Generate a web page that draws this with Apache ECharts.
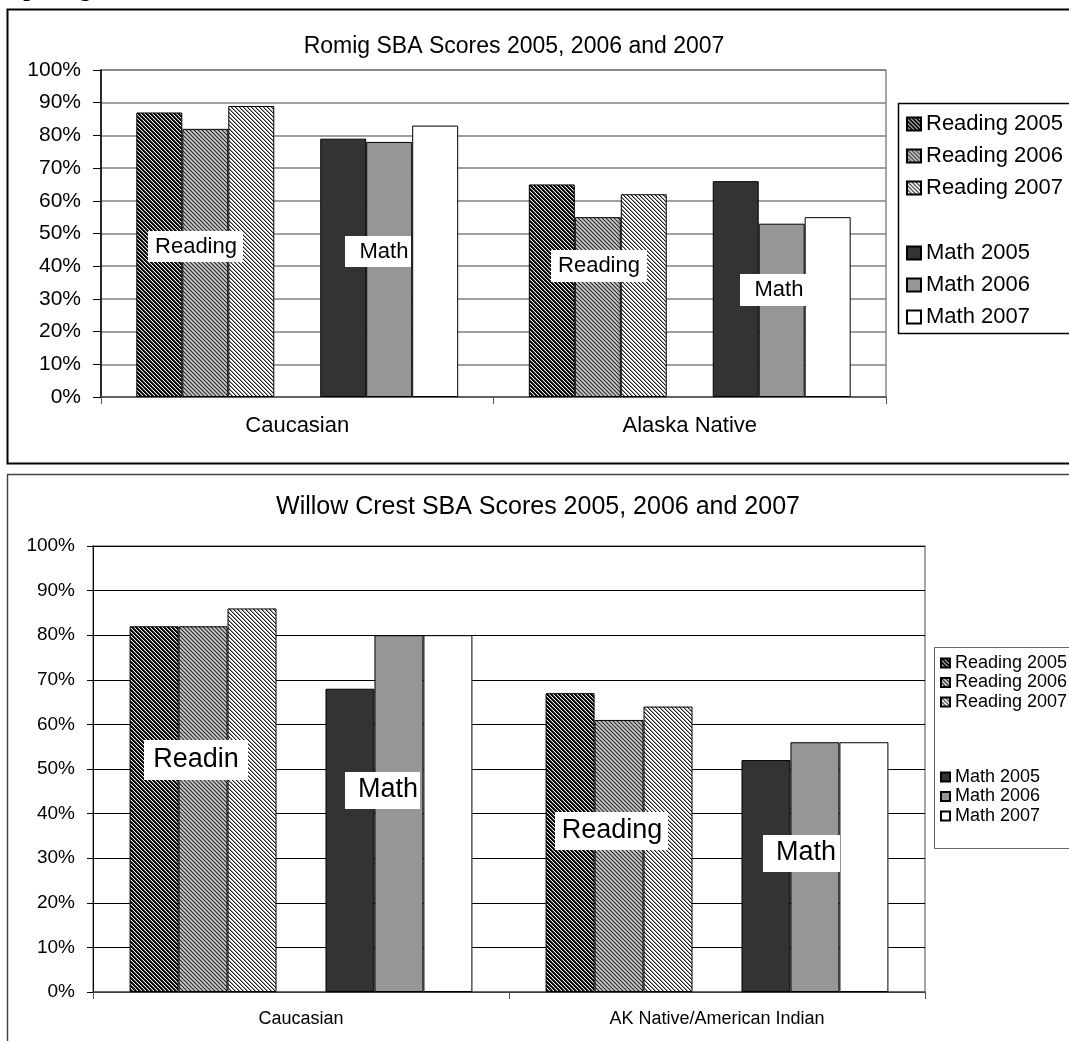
<!DOCTYPE html>
<html>
<head>
<meta charset="utf-8">
<script src="https://cdn.jsdelivr.net/npm/echarts@6/dist/echarts.min.js"></script>
<style>
  html, body { margin: 0; padding: 0; background: #fff; }
  #chart { width: 1069px; height: 1041px; }
</style>
</head>
<body>
<div id="chart"></div>
<script>
// ---- data ----
const seriesNames = ['Reading 2005', 'Reading 2006', 'Reading 2007', 'Math 2005', 'Math 2006', 'Math 2007']
const yTicks = [0, 10, 20, 30, 40, 50, 60, 70, 80, 90, 100]

const romigCategories = ['Caucasian', 'Alaska Native']
const romigReading2005 = [87, 65]
const romigReading2006 = [82, 55]
const romigReading2007 = [89, 62]
const romigMath2005 = [79, 66]
const romigMath2006 = [78, 53]
const romigMath2007 = [83, 55]

const willowCategories = ['Caucasian', 'AK Native/American Indian']
const willowReading2005 = [82, 67]
const willowReading2006 = [82, 61]
const willowReading2007 = [86, 64]
const willowMath2005 = [68, 52]
const willowMath2006 = [80, 56]
const willowMath2007 = [80, 56]

const FONT = 'Arial, "Liberation Sans", sans-serif'

// diagonal hatch tiles ("\" direction)
function makePattern(colors) {
  const n = colors.length
  const c = document.createElement('canvas')
  c.width = n; c.height = n
  const ctx = c.getContext('2d')
  for (let y = 0; y < n; y++) {
    for (let x = 0; x < n; x++) {
      ctx.fillStyle = colors[((x - y) % n + n) % n]
      ctx.fillRect(x, y, 1, 1)
    }
  }
  return { image: c, repeat: 'repeat' }
}

const fills = [
  makePattern(['#000', '#000', '#444', '#eee']),
  makePattern(['#333', '#999', '#ccc', '#999']),
  makePattern(['#222', '#999', '#fff', '#fff']),
  '#333333',
  '#969696',
  '#ffffff'
]

function barSeries(idx, values) {
  return seriesNames.map((name, i) => ({
    name,
    type: 'bar',
    xAxisIndex: idx,
    yAxisIndex: idx,
    data: values[i],
    barGap: '0%',
    barCategoryGap: idx === 0 ? '18%' : '17.6%',
    itemStyle: { color: fills[i], borderColor: '#000', borderWidth: 1 }
  }))
}

function withSpacer(list, idx) {
  // empty slot between the Reading and Math groups
  const spacer = {
    type: 'bar', xAxisIndex: idx, yAxisIndex: idx, data: [null, null],
    barGap: '0%', silent: true, itemStyle: { color: 'transparent' }
  }
  return [list[0], list[1], list[2], spacer, list[3], list[4], list[5]]
}

const romigSeries = withSpacer(barSeries(0, [romigReading2005, romigReading2006, romigReading2007, romigMath2005, romigMath2006, romigMath2007]), 0)
const willowSeries = withSpacer(barSeries(1, [willowReading2005, willowReading2006, willowReading2007, willowMath2005, willowMath2006, willowMath2007]), 1)

function label(text, x, y, w, h, bx, by, size) {
  return [
    { type: 'rect', z: 100, shape: { x: bx, y: by, width: w, height: h }, style: { fill: '#fff' } },
    { type: 'text', z: 101, x, y, style: { text, font: size + 'px ' + FONT, fill: '#000', align: 'center', verticalAlign: 'middle' } }
  ]
}

const chart = echarts.init(document.getElementById('chart'))
chart.setOption({
  animation: false,
  backgroundColor: '#fff',
  title: [
    { text: 'Romig SBA Scores 2005, 2006 and 2007', left: 509, top: 42, textAlign: 'center', textVerticalAlign: 'middle',
      textStyle: { fontFamily: FONT, fontSize: 23, fontWeight: 'normal', color: '#000' } },
    { text: 'Willow Crest SBA Scores 2005, 2006 and 2007', left: 533, top: 502, textAlign: 'center', textVerticalAlign: 'middle',
      textStyle: { fontFamily: FONT, fontSize: 25, fontWeight: 'normal', color: '#000' } }
  ],
  legend: [
    { data: seriesNames.slice(0, 3), orient: 'vertical', left: 906, top: 113, padding: 0, itemGap: 10,
      itemWidth: 14, itemHeight: 13, icon: 'rect', selectedMode: false,
      textStyle: { fontFamily: FONT, fontSize: 22, lineHeight: 22, color: '#000' } },
    { data: seriesNames.slice(3), orient: 'vertical', left: 906, top: 242, padding: 0, itemGap: 10,
      itemWidth: 14, itemHeight: 13, icon: 'rect', selectedMode: false,
      textStyle: { fontFamily: FONT, fontSize: 22, lineHeight: 22, color: '#000' } },
    { data: seriesNames.slice(0, 3), orient: 'vertical', left: 940, top: 654, padding: 0, itemGap: 1.5,
      itemWidth: 9, itemHeight: 9, icon: 'rect', selectedMode: false,
      textStyle: { fontFamily: FONT, fontSize: 18, lineHeight: 18, color: '#000' } },
    { data: seriesNames.slice(3), orient: 'vertical', left: 940, top: 768, padding: 0, itemGap: 1.5,
      itemWidth: 9, itemHeight: 9, icon: 'rect', selectedMode: false,
      textStyle: { fontFamily: FONT, fontSize: 18, lineHeight: 18, color: '#000' } }
  ],
  grid: [
    { left: 101, right: 183, top: 70, bottom: 644, show: true, borderColor: '#888', borderWidth: 1.5 },
    { left: 93, right: 144, top: 546, bottom: 49, show: true, borderColor: '#888', borderWidth: 1.5 }
  ],
  xAxis: [
    { type: 'category', gridIndex: 0, data: romigCategories,
      axisLine: { lineStyle: { color: '#555', width: 1.5 } },
      axisTick: { show: true, length: 7, lineStyle: { color: '#555' } },
      axisLabel: { fontFamily: FONT, fontSize: 22, color: '#000', margin: 18 } },
    { type: 'category', gridIndex: 1, data: willowCategories,
      axisLine: { lineStyle: { color: '#555', width: 1.5 } },
      axisTick: { show: true, length: 7, lineStyle: { color: '#555' } },
      axisLabel: { fontFamily: FONT, fontSize: 18, color: '#000', margin: 18 } }
  ],
  yAxis: [
    { type: 'value', gridIndex: 0, min: yTicks[0], max: yTicks[yTicks.length - 1], interval: 10,
      axisLine: { show: true, lineStyle: { color: '#000', width: 1.5 } },
      axisTick: { show: true, length: 8, lineStyle: { color: '#000' } },
      axisLabel: { formatter: '{value}%', fontFamily: FONT, fontSize: 21, color: '#000', margin: 20 },
      splitLine: { lineStyle: { color: '#808080', width: 1.5 } } },
    { type: 'value', gridIndex: 1, min: yTicks[0], max: yTicks[yTicks.length - 1], interval: 10,
      axisLine: { show: true, lineStyle: { color: '#000', width: 1 } },
      axisTick: { show: true, length: 6, lineStyle: { color: '#000' } },
      axisLabel: { formatter: '{value}%', fontFamily: FONT, fontSize: 19, color: '#000', margin: 18 },
      splitLine: { lineStyle: { color: '#000', width: 1 } } }
  ],
  series: romigSeries.concat(willowSeries),
  graphic: [
    // clipped heading above the charts (only its lower edge is on the page)
    { type: 'text', x: -26, y: 2, style: { text: 'Comparing 2005, 2006 and 2007,', font: 'bold 24px "Liberation Serif", serif', fill: '#000', verticalAlign: 'bottom' } },
    // frames
    { type: 'rect', shape: { x: 7.5, y: 9.5, width: 1100, height: 454 }, style: { fill: null, stroke: '#000', lineWidth: 2 } },
    { type: 'rect', shape: { x: 7.5, y: 474.5, width: 1100, height: 620 }, style: { fill: null, stroke: '#444', lineWidth: 1.5 } },
    { type: 'rect', shape: { x: 898.5, y: 103.5, width: 200, height: 230 }, style: { fill: null, stroke: '#000', lineWidth: 1.5 } },
    { type: 'rect', shape: { x: 934.5, y: 647.5, width: 200, height: 201 }, style: { fill: null, stroke: '#666', lineWidth: 1 } },
    // in-plot labels
    ...label('Reading', 196, 247, 95, 31, 148, 231, 22),
    ...label('Math', 384, 252, 66, 31, 345, 236, 22),
    ...label('Reading', 599, 266, 96, 32, 551, 250, 22),
    ...label('Math', 779, 290, 68, 32, 740, 274, 22),
    ...label('Readin', 196, 760, 104, 40, 144, 740, 27),
    ...label('Math', 388, 790, 75, 37, 345, 772, 27),
    ...label('Reading', 612, 831, 113, 38, 555, 812, 27),
    ...label('Math', 806, 853, 77, 37, 763, 835, 27)
  ]
})
</script>
</body>
</html>
